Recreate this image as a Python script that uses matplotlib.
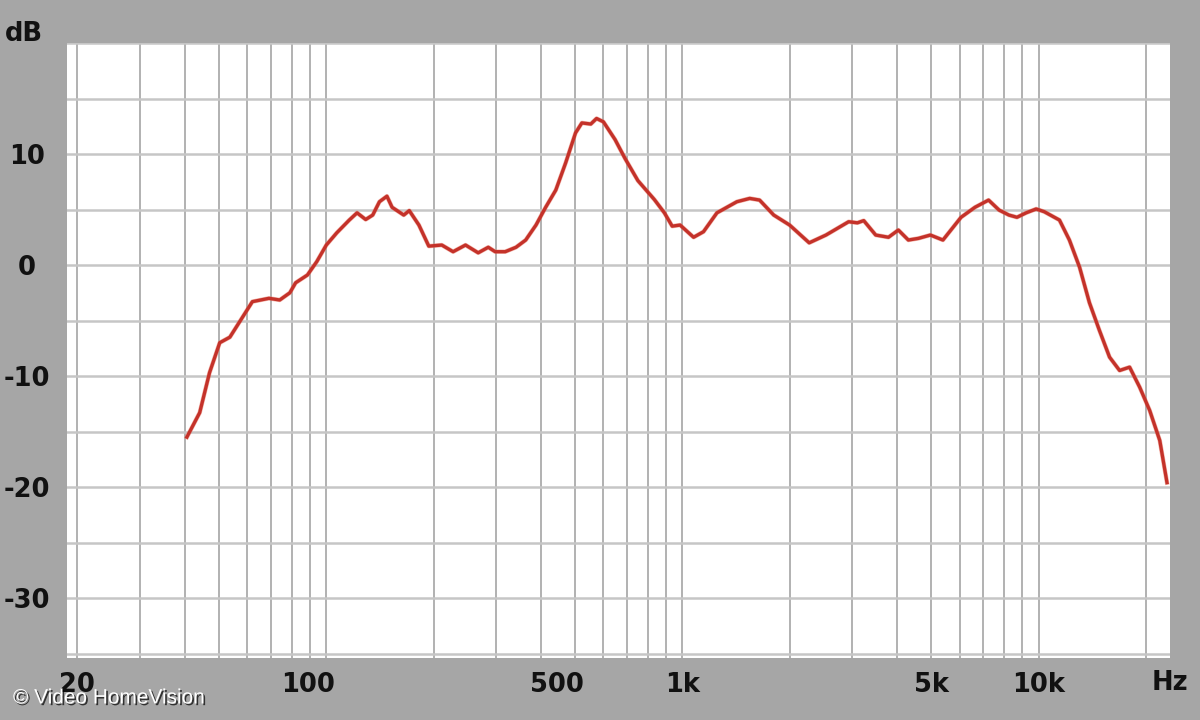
import matplotlib
matplotlib.use("Agg")
import matplotlib.pyplot as plt
import matplotlib.patheffects as pe
from matplotlib.transforms import ScaledTranslation

# response curve (Hz, dB)
freq = [40.6, 44.1, 47, 50.2, 53.6, 62, 69, 74, 79, 82, 88.5, 94, 100, 107,
        116, 122, 129, 135, 141, 148, 153, 165, 171, 182, 194, 211, 227, 246,
        267, 285, 298, 318, 341, 363, 388, 413, 441, 470, 501, 522, 553, 574,
        600, 647, 690, 750, 834, 890, 936, 985, 1075, 1146, 1250, 1422, 1545,
        1647, 1805, 2000, 2270, 2530, 2930, 3100, 3230, 3490, 3790, 4040,
        4310, 4600, 4970, 5390, 6060, 6630, 7240, 7750, 8260, 8700, 9230,
        9850, 10380, 11450, 12210, 13040, 13900, 14830, 15830, 16890, 18020,
        19230, 20520, 21900, 22950]
level = [-15.5, -13.3, -9.7, -7.0, -6.5, -3.3, -3.0, -3.15, -2.5, -1.6, -0.9,
         0.3, 1.8, 2.9, 4.05, 4.7, 4.1, 4.5, 5.7, 6.2, 5.2, 4.5, 4.9, 3.6, 1.7,
         1.8, 1.2, 1.8, 1.1, 1.6, 1.2, 1.2, 1.6, 2.25, 3.6, 5.2, 6.75, 9.2,
         11.9, 12.8, 12.7, 13.2, 12.9, 11.3, 9.6, 7.6, 5.9, 4.7, 3.5, 3.6, 2.5,
         3.0, 4.7, 5.7, 6.0, 5.85, 4.5, 3.6, 2.0, 2.7, 3.9, 3.8, 4.0, 2.7, 2.5,
         3.15, 2.25, 2.4, 2.7, 2.25, 4.3, 5.2, 5.85, 4.95, 4.5, 4.3, 4.7, 5.05,
         4.8, 4.05, 2.25, -0.2, -3.4, -5.9, -8.3, -9.5, -9.2, -11.0, -13.1,
         -15.8, -19.6]

xticks = [20, 100, 500, 1000, 5000, 10000]
xlabels = ["20", "100", "500", "1k", "5k", "10k"]
yticks = [10, 0, -10, -20, -30]
ylabels = ["10", "0", "-10", "-20", "-30"]

# grid positions: 20..90, 100..900, 1k..9k, 10k, 20k
vlines = [m * d for d in (10, 100, 1000) for m in range(2, 11)] + [20000]
hlines = list(range(-35, 21, 5))

fig = plt.figure(figsize=(12, 7.2), dpi=100, facecolor="#a6a6a6")
ax = fig.add_axes([67 / 1200, 62 / 720, 1103 / 1200, 615 / 720])
ax.set_facecolor("white")
ax.set_xscale("log")
ax.set_xlim(18.7, 23400)
ax.set_ylim(-35.4, 20.0)

for v in vlines:
    ax.axvline(v, color="#ababab", lw=1.3, zorder=1)
for h in hlines:
    ax.axhline(h, color="#c6c6c6", lw=1.8, zorder=1)

ax.plot(freq, level, color="#c4322a", lw=2.4, zorder=3,
        path_effects=[pe.Stroke(linewidth=3.2, foreground="#e8735f", alpha=0.5), pe.Normal()])

for s in ax.spines.values():
    s.set_visible(False)

bold = dict(family="DejaVu Sans", weight="bold", size=18.5, color="#111111")
ax.set_xticks(xticks)
ax.set_xticklabels(xlabels, **bold)
ax.xaxis.set_minor_locator(matplotlib.ticker.NullLocator())
ax.set_yticks(yticks)
ax.set_yticklabels(ylabels, ha="center", **bold)
ax.tick_params(axis="x", length=0, pad=10)
ax.tick_params(axis="y", length=0, pad=29)

# the "100" and "500" labels sit a little left of their lines in the original
shift = ScaledTranslation(-0.18, 0, fig.dpi_scale_trans)
for lab in ax.get_xticklabels()[1:3]:
    lab.set_transform(lab.get_transform() + shift)

fig.text(24 / 1200, 1 - 34 / 720, "dB", ha="center", va="center", **bold)
fig.text(1170 / 1200, 1 - 683 / 720, "Hz", ha="center", va="center", **bold)

fig.text(13 / 1200, 1 - 698 / 720, "\u00a9 Video HomeVision", ha="left", va="center",
         family="Liberation Sans", size=15, color="white",
         path_effects=[pe.SimplePatchShadow(offset=(1.2, -1.2), shadow_rgbFace="black", alpha=0.7),
                       pe.Normal()])

fig.savefig("out.png", dpi=100, facecolor=fig.get_facecolor())
